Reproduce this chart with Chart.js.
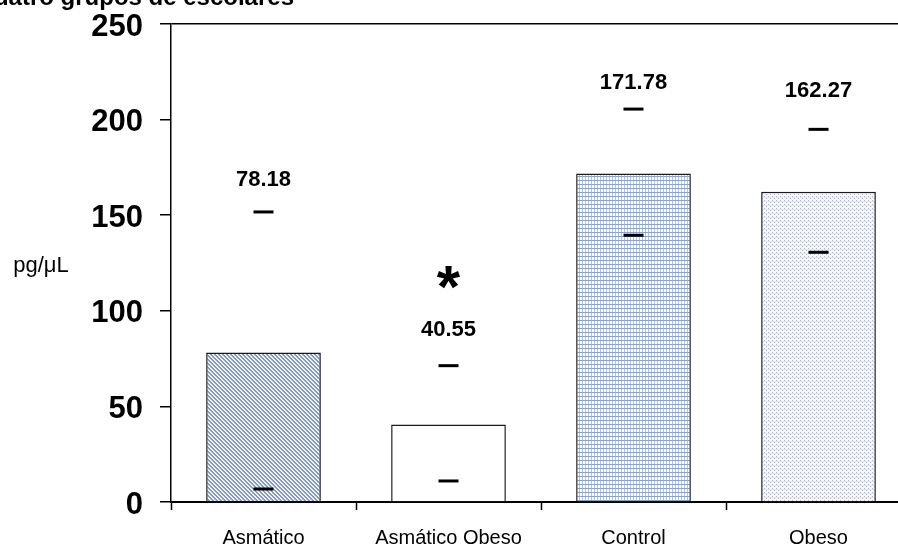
<!DOCTYPE html>
<html>
<head>
<meta charset="utf-8">
<script src="https://cdn.jsdelivr.net/npm/chart.js@4/dist/chart.umd.min.js"></script>
<style>
  html, body { margin: 0; padding: 0; background: #fff; overflow: hidden; }
  #wrap { width: 924px; height: 550px; }
</style>
</head>
<body>
<div id="wrap"><canvas id="grafico" width="924" height="550"></canvas></div>
<script>
// datos
var grupos = ['Asmático', 'Asmático Obeso', 'Control', 'Obeso'];
var medias = [78.18, 40.55, 171.78, 162.27];
var limiteSup = [151.7, 71.3, 205.5, 194.9];
var limiteInf = [6.8, 11.0, 139.5, 130.6];
var etiquetaEn = [168.4, 90.0, 219.4, 215.1];   // altura del texto de cada media
var asteriscoEn = [null, 116, null, null];
var ticksY = [0, 50, 100, 150, 200, 250];

var fuente = "'Liberation Sans', Arial, sans-serif";
var ctx = document.getElementById('grafico').getContext('2d');

// tramas tipo Excel
function trama(w, h, pintar) {
    var c = document.createElement('canvas');
    c.width = w;
    c.height = h;
    var g = c.getContext('2d');
    pintar(g);
    return ctx.createPattern(c, 'repeat');
}

var tramaDiagonal = trama(4, 4, function(g) {
    g.fillStyle = '#ffffff';
    g.fillRect(0, 0, 4, 4);
    g.fillStyle = '#8299c8';
    for (var y = 0; y < 4; y++) {
        g.fillRect((y) % 4, y, 1, 1);
        g.fillRect((y + 1) % 4, y, 1, 1);
    }
    g.fillStyle = '#dde4f1';
    for (var k = 0; k < 4; k++) {
        g.fillRect((k + 3) % 4, k, 1, 1);
    }
});

var tramaCuadricula = trama(3, 4, function(g) {
    g.fillStyle = '#ffffff';
    g.fillRect(0, 0, 3, 4);
    g.fillStyle = '#b2c3df';
    g.fillRect(0, 0, 1, 4);
    g.fillStyle = '#8ba2c9';
    g.fillRect(0, 0, 3, 1);
});

var tramaPuntos = trama(4, 4, function(g) {
    g.fillStyle = '#f5f7fb';
    g.fillRect(0, 0, 4, 4);
    g.fillStyle = '#e2e8f3';
    g.fillRect(0, 1, 4, 1);
    g.fillStyle = '#b0b8c5';
    g.fillRect(0, 0, 1, 1);
    g.fillRect(2, 2, 1, 1);
});

var colores = [tramaDiagonal, '#ffffff', tramaCuadricula, tramaPuntos];

// textos encima de las barras, asterisco, unidad y titulo
var textos = {
    id: 'textos',
    afterDraw: function(chart) {
        var c = chart.ctx;
        var x = chart.scales.x;
        var y = chart.scales.y;
        c.save();
        c.fillStyle = '#000';
        c.textAlign = 'center';
        c.textBaseline = 'middle';
        c.font = 'bold 22px ' + fuente;
        for (var i = 0; i < medias.length; i++) {
            c.fillText(medias[i].toFixed(2), x.getPixelForValue(i), y.getPixelForValue(etiquetaEn[i]));
        }
        c.font = 'bold 60px ' + fuente;
        c.textBaseline = 'alphabetic';
        for (var j = 0; j < asteriscoEn.length; j++) {
            if (asteriscoEn[j] === null) continue;
            c.fillText('*', x.getPixelForValue(j), y.getPixelForValue(asteriscoEn[j]) + 27);
        }
        c.font = '22px ' + fuente;
        c.textBaseline = 'middle';
        c.fillText('pg/\u03bcL', 41, 266);
        c.font = 'bold 24px ' + fuente;
        c.textAlign = 'right';
        c.textBaseline = 'alphabetic';
        c.fillText('en cuatro grupos de escolares', 294, 5);
        c.restore();
    }
};

new Chart(ctx, {
    type: 'bar',
    data: {
        labels: grupos,
        datasets: [{
            type: 'line',
            data: limiteSup,
            showLine: false,
            pointStyle: 'line',
            pointRadius: 10,
            pointBorderWidth: 3,
            pointBorderColor: '#000',
            borderColor: '#000',
            order: 0
        }, {
            type: 'line',
            data: limiteInf,
            showLine: false,
            pointStyle: 'line',
            pointRadius: 10,
            pointBorderWidth: 3,
            pointBorderColor: '#000',
            borderColor: '#000',
            order: 0
        }, {
            data: medias,
            backgroundColor: colores,
            borderColor: '#1a1a1a',
            borderWidth: 1.5,
            categoryPercentage: 1,
            barPercentage: 0.62,
            order: 1
        }]
    },
    options: {
        responsive: false,
        animation: false,
        devicePixelRatio: 1,
        layout: { padding: { top: 24, right: 0, bottom: 0, left: 0 } },
        plugins: {
            legend: { display: false },
            tooltip: { enabled: false }
        },
        scales: {
            x: {
                offset: true,
                afterFit: function(s) {
                    s.height = 48;
                    s.paddingLeft = 0;
                    s.paddingRight = 0;
                },
                border: { color: '#000', width: 2 },
                grid: {
                    offset: true,
                    drawOnChartArea: false,
                    tickLength: 8,
                    tickColor: '#000',
                    tickWidth: 1.5
                },
                ticks: {
                    color: '#000',
                    padding: 16,
                    font: { family: fuente, size: 20 }
                }
            },
            y: {
                min: 0,
                max: 250,
                afterFit: function(s) {
                    s.width = 171;
                    s.paddingTop = 0;
                    s.paddingBottom = 0;
                },
                afterBuildTicks: function(s) {
                    s.ticks = ticksY.map(function(v) { return { value: v }; });
                },
                border: { color: '#000', width: 1.5 },
                grid: {
                    color: function(c) { return c.tick && c.tick.value === 250 ? '#000' : 'rgba(0,0,0,0)'; },
                    lineWidth: 1.5,
                    tickLength: 11,
                    tickColor: '#000',
                    tickWidth: 1.5
                },
                ticks: {
                    color: '#000',
                    padding: 17,
                    labelOffset: 3,
                    font: { family: fuente, size: 31, weight: 'bold' }
                }
            }
        }
    },
    plugins: [textos]
});
</script>
</body>
</html>
